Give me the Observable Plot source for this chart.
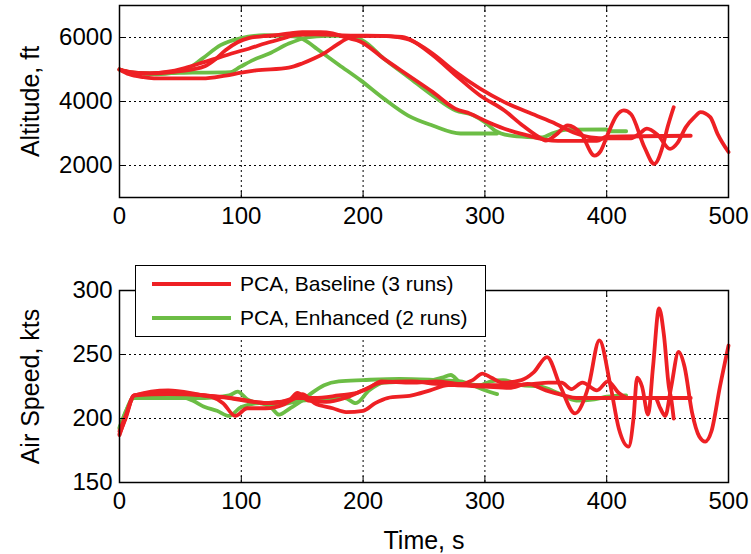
<!DOCTYPE html>
<html>
<head>
<meta charset="utf-8">
<script src="https://cdn.jsdelivr.net/npm/d3@7"></script>
<script src="https://cdn.jsdelivr.net/npm/@observablehq/plot@0.6"></script>
<style>
  html, body { margin: 0; padding: 0; background: #fff; }
  #wrap { position: relative; width: 751px; height: 554px; background: #fff; font-family: "Liberation Sans", Arial, sans-serif; overflow: hidden; }
  #top, #bottom { position: absolute; left: 0; }
  #top { top: 0; }
  #bottom { top: 250px; }
  #legend { position: absolute; left: 135px; top: 265px; width: 349px; height: 70px; border: 1.5px solid #000; background: #fff; }
  .row { position: absolute; left: 0; height: 30px; display: flex; align-items: center; font-size: 21px; color: #000; }
  .sw { width: 79px; height: 4px; margin-left: 16px; margin-right: 9px; }
</style>
</head>
<body>
<div id="wrap">
  <div id="top"></div>
  <div id="bottom"></div>
  <div id="legend"></div>
</div>
<script>
// ---------- Data (time in s) ----------
const xTicks = [0, 100, 200, 300, 400, 500];
const altTicks = [2000, 4000, 6000];
const spdTicks = [150, 200, 250, 300];
const seriesNames = ["PCA, Baseline (3 runs)", "PCA, Enhanced (2 runs)"];
const seriesColors = ["#ee2024", "#6cbd45"];

// Altitude, ft
const altBase1 = [[0,5000],[10,4920],[25,4880],[45,4930],[60,5000],[70,5100],[78,5300],[87,5600],[97,5850],[106,5980],[118,6040],[128,6070],[140,6130],[150,6170],[165,6170],[175,6130],[186,6000],[198,5870],[217,5340],[237,4820],[257,4300],[276,3770],[288,3620],[300,3400],[316,3150],[335,2940],[350,2800],[360,2770],[392,2770],[400,2900],[469,2930]];
const altBase2 = [[0,5000],[10,4900],[25,4880],[40,4930],[52,5030],[65,5180],[79,5340],[92,5500],[106,5650],[120,5820],[134,5970],[145,6080],[160,6100],[175,6080],[190,6060],[215,6050],[230,6000],[240,5900],[257,5450],[276,4820],[296,4190],[316,3720],[331,3250],[347,2830],[350,2780],[358,2950],[368,3250],[379,2990],[390,2310],[395,2450],[401,2990],[408,3550],[414,3720],[420,3600],[431,2570],[439,2050],[446,2600],[450,3200],[455,3820]];
const altBase3 = [[0,5000],[8,4850],[20,4760],[30,4720],[68,4720],[87,4810],[100,4900],[112,4970],[139,5060],[150,5190],[160,5350],[169,5530],[178,5760],[186,5950],[195,6050],[210,6050],[232,6020],[245,5800],[257,5500],[276,4920],[296,4400],[316,3980],[335,3670],[355,3360],[375,3000],[387,2880],[400,2850],[420,2850],[427,3000],[433,3150],[442,2950],[452,2520],[458,2700],[465,3200],[472,3510],[477,3670],[485,3510],[491,2990],[500,2420]];
const altEnh1 = [[0,5000],[10,4900],[30,4850],[45,4900],[55,5000],[68,5340],[83,5760],[99,5970],[119,6070],[135,6050],[146,6020],[155,5850],[162,5650],[180,5150],[198,4660],[217,4090],[237,3560],[257,3250],[280,3000],[310,3000]];
const altEnh2 = [[0,5000],[10,4900],[30,4880],[60,4900],[91,4920],[99,5080],[110,5300],[123,5500],[139,5810],[154,6000],[170,6050],[190,6050],[202,5850],[217,5340],[237,4770],[257,4190],[276,3720],[290,3580],[300,3350],[308,3100],[320,2940],[335,2890],[347,2880],[355,3000],[368,3120],[400,3130],[401,3070],[416,3070]];

// Air speed, kts
const spdBase1 = [[0,188],[5,200],[12,218],[40,221],[60,219],[75,217],[85,212],[95,202],[105,208],[120,208],[135,211],[145,216],[160,216],[180,218],[195,220],[205,224],[215,229],[240,228],[260,229],[280,227],[290,230],[298,235],[305,232],[315,228],[330,230],[340,236],[351,248],[362,225],[374,204],[385,225],[394,261],[403,226],[410,192],[418,178],[422,200],[425,232],[429,225],[434,203],[438,240],[443,286],[447,265],[451,225],[453,215],[455,200]];
const spdBase2 = [[0,190],[5,202],[12,218],[40,219],[70,218],[100,215],[120,212],[130,213],[140,214],[150,219],[160,212],[175,208],[186,205],[200,206],[210,212],[220,216],[240,218],[255,222],[270,226],[285,226],[300,226],[320,226],[340,227],[352,228],[363,228],[371,223],[380,228],[392,222],[401,229],[410,220],[418,216],[440,216],[444,208],[448,202],[453,225],[459,252],[464,240],[470,205],[476,186],[481,182],[486,190],[493,225],[500,257]];
const spdBase3 = [[0,187],[5,201],[12,218],[40,222],[70,218],[90,216],[110,213],[125,212],[140,215],[146,220],[155,214],[170,213],[185,216],[200,222],[215,228],[240,229],[260,227],[275,226],[300,225],[320,224],[335,227],[350,222],[365,218],[375,216],[469,216]];
const spdEnh1 = [[0,192],[5,205],[12,217],[30,217],[50,217],[60,214],[70,209],[80,206],[90,202],[100,209],[115,212],[125,208],[131,203],[140,208],[150,214],[158,220],[168,226],[180,229],[200,230],[230,231],[260,230],[280,229],[290,226],[300,222],[310,219]];
const spdEnh2 = [[0,193],[5,205],[12,216],[40,216],[70,216],[90,218],[97,221],[105,215],[115,212],[130,211],[150,214],[170,215],[185,216],[194,212],[205,222],[217,228],[240,229],[257,230],[265,232],[272,234],[280,228],[295,226],[305,229],[315,230],[330,226],[345,225],[360,220],[375,214],[390,215],[400,217],[416,218]];

// ---------- Build tables ----------
function toRows(runs, group) {
  const rows = [];
  runs.forEach((run, i) => run.forEach(([t, v]) => rows.push({t, v, run: group + "-" + i, group})));
  return rows;
}
const altRows = [...toRows([altEnh1, altEnh2], 1), ...toRows([altBase1, altBase2, altBase3], 0)];
const spdRows = [...toRows([spdEnh1, spdEnh2], 1), ...toRows([spdBase1, spdBase2, spdBase3], 0)];

const FONT = "Liberation Sans, Arial, sans-serif";
const W = 751, ML = 119, MR = 23;

function panel({rows, yDomain, yTicks, height, mt, mb, yLabel, xLabel}) {
  const grid = {stroke: "#000", strokeOpacity: 1, strokeDasharray: "2,3", strokeWidth: 1};
  const marks = [
    Plot.gridX(xTicks, grid),
    Plot.gridY(yTicks, grid),
    Plot.line(rows, {x: "t", y: "v", z: "run", curve: "monotone-x", stroke: d => seriesColors[d.group], strokeWidth: 3.8, strokeLinejoin: "round", strokeLinecap: "round"}),
    Plot.frame({stroke: "#000", strokeWidth: 1.5}),
    Plot.axisX(xTicks, {anchor: "bottom", tickSize: -6, tickPadding: 15, fontSize: 24, label: null, tickFormat: d => String(d)}),
    Plot.axisX(xTicks, {anchor: "top", tickSize: -6, tickFormat: () => "", label: null}),
    Plot.axisY(yTicks, {anchor: "left", tickSize: -6, tickPadding: 13, fontSize: 24, label: null, tickFormat: d => String(d)}),
    Plot.axisY(yTicks, {anchor: "right", tickSize: -6, tickFormat: () => "", label: null}),
    Plot.text([yLabel], {frameAnchor: "left", dx: -89, rotate: -90, textAnchor: "middle", lineAnchor: "middle", fontSize: 25, fill: "#000"})
  ];
  if (xLabel) marks.push(Plot.text([xLabel], {frameAnchor: "bottom", dy: 58, textAnchor: "middle", lineAnchor: "middle", fontSize: 25, fill: "#000"}));
  return Plot.plot({
    width: W, height,
    marginLeft: ML, marginRight: MR, marginTop: mt, marginBottom: mb,
    style: {fontFamily: FONT, color: "#000", background: "#fff", overflow: "visible"},
    x: {domain: [0, 500]},
    y: {domain: yDomain},
    marks
  });
}

document.getElementById("top").append(panel({
  rows: altRows, yDomain: [1000, 7000], yTicks: altTicks, height: 250, mt: 5, mb: 53, yLabel: "Altitude, ft"
}));
document.getElementById("bottom").append(panel({
  rows: spdRows, yDomain: [150, 300], yTicks: spdTicks, height: 304, mt: 40, mb: 72, yLabel: "Air Speed, kts", xLabel: "Time, s"
}));

// Legend
const legend = document.getElementById("legend");
seriesNames.forEach((name, i) => {
  const row = document.createElement("div");
  row.className = "row";
  row.style.top = (i === 0 ? 3 : 37) + "px";
  const sw = document.createElement("div");
  sw.className = "sw";
  sw.style.background = seriesColors[i];
  const tx = document.createElement("span");
  tx.textContent = name;
  row.append(sw, tx);
  legend.append(row);
});
</script>
</body>
</html>
